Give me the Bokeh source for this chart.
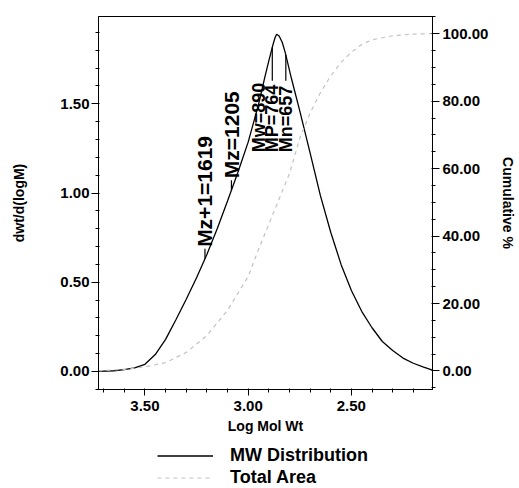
import numpy as np
from bokeh.plotting import figure
from bokeh.layouts import column
from bokeh.models import (Range1d, LinearAxis, Legend, LegendItem,
                          SingleIntervalTicker, NumeralTickFormatter)
from bokeh.core.properties import value
from bokeh.embed import file_html
from bokeh.resources import INLINE

# ---- data ----
log_mw = [3.725, 3.65, 3.60, 3.55, 3.50, 3.45, 3.40, 3.35, 3.30, 3.25, 3.20,
          3.15, 3.10, 3.05, 3.00, 2.95, 2.92, 2.90, 2.88, 2.87, 2.862, 2.85,
          2.835, 2.82, 2.79, 2.75, 2.70, 2.65, 2.60, 2.55, 2.50, 2.45, 2.40,
          2.35, 2.30, 2.25, 2.20, 2.15, 2.107]
dwt = [0.000, 0.004, 0.010, 0.020, 0.040, 0.095, 0.180, 0.290, 0.405, 0.525,
       0.655, 0.800, 0.955, 1.115, 1.285, 1.495, 1.645, 1.740, 1.830, 1.870,
       1.890, 1.880, 1.845, 1.785, 1.640, 1.460, 1.225, 0.985, 0.780, 0.600,
       0.454, 0.337, 0.245, 0.168, 0.118, 0.075, 0.046, 0.024, 0.008]

cum_log_mw = [3.725, 3.60, 3.50, 3.40, 3.30, 3.20, 3.10, 3.00, 2.95, 2.90,
              2.85, 2.80, 2.75, 2.70, 2.65, 2.60, 2.55, 2.50, 2.45, 2.40,
              2.30, 2.20, 2.107]
cum_pct = [0.0, 0.5, 1.2, 2.5, 5.5, 10.5, 18.0, 28.0, 36.0, 43.5, 51.0, 58.5,
           69.0, 76.5, 82.5, 87.5, 91.5, 94.5, 96.8, 98.2, 99.4, 99.9, 100.0]

avg_names = ["Mz+1", "Mz", "Mw", "MP", "Mn"]
avg_values = [1619, 1205, 890, 764, 657]

legend_labels = ["MW Distribution", "Total Area"]

FONT = "Liberation Sans"
DIST_STYLE = dict(line_color="black", line_width=1.3)
CUM_STYLE = dict(line_color="#c2c2c2", line_width=1.2, line_dash="4 4")

p = figure(width=519, height=442, output_backend="svg", toolbar_location=None,
           x_range=Range1d(3.725, 2.107), y_range=Range1d(-0.101, 1.989),
           min_border_left=98, min_border_right=84, min_border_top=16,
           min_border_bottom=53,
           x_axis_label="Log Mol Wt", y_axis_label="dwt/d(logM)")
p.extra_y_ranges = {"cum": Range1d(-5.49, 105.1)}
p.grid.visible = False
p.outline_line_color = "black"
p.outline_line_width = 1
p.background_fill_color = "white"
p.border_fill_color = "white"

xax = p.xaxis[0]
yax = p.yaxis[0]
xax.ticker = SingleIntervalTicker(interval=0.5, num_minor_ticks=5)
yax.ticker = SingleIntervalTicker(interval=0.5, num_minor_ticks=5)
xax.formatter = NumeralTickFormatter(format="0.00")
yax.formatter = NumeralTickFormatter(format="0.00")

rax = LinearAxis(y_range_name="cum", axis_label="Cumulative %",
                 ticker=SingleIntervalTicker(interval=20, num_minor_ticks=4),
                 formatter=NumeralTickFormatter(format="0.00"))
p.add_layout(rax, "right")

for ax in (xax, yax, rax):
    ax.axis_line_color = "black"
    ax.major_tick_line_color = "black"
    ax.minor_tick_line_color = "black"
    ax.major_tick_in = 0
    ax.major_tick_out = 7
    ax.minor_tick_in = 1
    ax.minor_tick_out = 3
    ax.major_label_text_font = FONT
    ax.major_label_text_font_size = "15px"
    ax.major_label_text_font_style = "bold"
    ax.major_label_text_color = "black"
    ax.axis_label_text_font = FONT
    ax.axis_label_text_font_size = "14px"
    ax.axis_label_text_font_style = "bold"
    ax.axis_label_text_color = "black"

yax.major_label_standoff = 2
yax.axis_label_standoff = 30
rax.major_label_standoff = 3
rax.axis_label_standoff = 9
xax.major_tick_out = 6
xax.major_label_standoff = 5
xax.axis_label_standoff = 4

p.line(log_mw, dwt, **DIST_STYLE)
p.line(cum_log_mw, cum_pct, y_range_name="cum", **CUM_STYLE)

# average molecular weight markers
lx = np.log10(np.array(avg_values, dtype=float))
ly = np.interp(lx, log_mw[::-1], dwt[::-1])
texts = [f"{n}={v}" for n, v in zip(avg_names, avg_values)]

txt_kw = dict(angle=np.pi / 2, text_baseline="middle", text_color="black",
              text_font=value(FONT), text_font_style="bold", text_align="left")

# outer labels: stand on the curve with a short leader
p.ray(x=lx[:2], y=ly[:2], length=10, length_units="screen", angle=np.pi / 2,
      line_color="black", line_width=1.2)
p.text(x=lx[:2], y=ly[:2], text=texts[:2], y_offset=-12,
       text_font_size="21px", **txt_kw)

# inner labels: start from a common level inside the peak, leader up to curve
inner_start = 0.65 * max(dwt)
inner_len = 0.40           # approx. text length in data units
inner_y = np.full(3, inner_start)
leader_end = np.minimum(ly[2:], inner_start + inner_len)
p.segment(x0=lx[2:], y0=ly[2:], x1=lx[2:], y1=leader_end,
          line_color="black", line_width=1.2)
p.text(x=lx[2:], y=inner_y, text=texts[2:], text_font_size="18px", **txt_kw)

# ---- legend strip below the chart (frame aligned with the chart's frame) ----
lg = figure(width=519, height=46, output_backend="svg", toolbar_location=None,
            x_range=Range1d(0, 1), y_range=Range1d(0, 1),
            min_border_left=0, min_border_right=0, min_border_top=0,
            min_border_bottom=0, outline_line_color=None)
lg.axis.visible = False
lg.grid.visible = False
lg.background_fill_color = "white"
lg.border_fill_color = "white"
# proxy renderers (their data lie outside this strip's ranges, so only the
# legend samples show)
r1 = lg.line(log_mw, dwt, **DIST_STYLE)
r2 = lg.line(cum_log_mw, cum_pct, **CUM_STYLE)
legend = Legend(items=[LegendItem(label=legend_labels[0], renderers=[r1]),
                       LegendItem(label=legend_labels[1], renderers=[r2])],
                location=(59, 0.5), orientation="vertical",
                glyph_width=56, glyph_height=21, label_height=21,
                label_standoff=17, spacing=1, padding=0, margin=0,
                border_line_color=None, background_fill_alpha=0,
                label_text_font=FONT, label_text_font_size="18px",
                label_text_font_style="bold", label_text_color="black")
lg.add_layout(legend)

layout = column(p, lg, spacing=0)
open("out.html", "w").write(file_html(layout, INLINE))
